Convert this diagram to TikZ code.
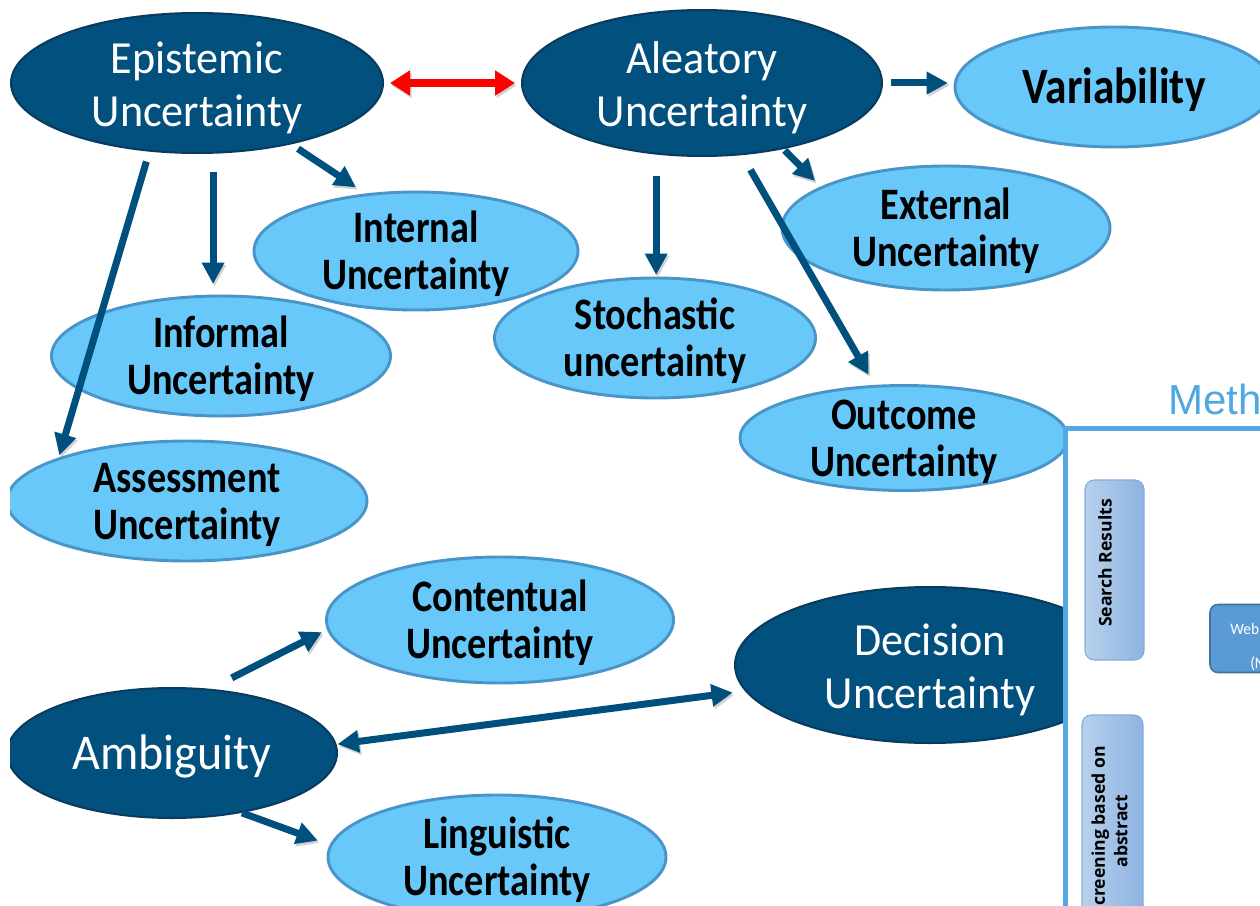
\documentclass[tikz,border=0pt]{standalone}
\usepackage{fontspec}
\setmainfont{Carlito}
\newfontfamily\wfont[FakeStretch=0.96]{Carlito}
\newfontfamily\bfont[FakeStretch=0.85]{Carlito}
\newfontfamily\sansfont{Liberation Sans}
\newfontfamily\osans{Open Sans}
\usetikzlibrary{arrows.meta,shapes.geometric}
\newcommand\TopS{\rule{0pt}{30pt}}
\newcommand\TopW{\rule{0pt}{32.25pt}}
\newcommand\BotS{\rule[-7.5pt]{0pt}{7.5pt}}
\definecolor{dkb}{HTML}{01507D}
\definecolor{dkbord}{HTML}{083B5E}
\definecolor{ltb}{HTML}{69C8FA}
\definecolor{ltbord}{HTML}{4A95C8}
\definecolor{arrc}{HTML}{00507E}
\definecolor{panelc}{HTML}{55A9E3}
\definecolor{methc}{HTML}{4EA8E2}
\definecolor{boxl}{HTML}{B8D0EC}
\definecolor{boxr}{HTML}{8DB3E2}
\definecolor{boxbord}{HTML}{86ACDA}
\definecolor{webc}{HTML}{5B9BD5}
\definecolor{webbord}{HTML}{41719C}
\tikzset{
  dk/.style 2 args={ellipse, fill=dkb, draw=dkbord, line width=1.5pt,
    minimum width={#1*0.75pt}, minimum height={#2*0.75pt},
    inner xsep=0pt, inner ysep=-34pt, outer sep=0pt, text=white, align=center,
    font=\wfont\fontsize{34.5pt}{39.75pt}\selectfont},
  lt/.style 2 args={ellipse, fill=ltb, draw=ltbord, line width=2.2pt,
    minimum width={#1*0.75pt}, minimum height={#2*0.75pt},
    inner xsep=0pt, inner ysep=-34pt, outer sep=0pt, text=black, align=center,
    font=\bfont\bfseries\fontsize{33.75pt}{35.25pt}\selectfont},
  shad/.style={preaction={draw=black, draw opacity=0.18, fill=black, fill opacity=0.18,
    transform canvas={xshift=1.2pt,yshift=-1.8pt}}},
  arr/.style={shad, draw=arrc, line width=5.25pt, -{Triangle[length=16pt,width=16pt]}},
  dblarr/.style={shad, draw=arrc, line width=5.25pt, {Triangle[length=16pt,width=16pt]}-{Triangle[length=16pt,width=16pt]}},
  redarr/.style={shad, draw=red, line width=6pt, {Triangle[length=15pt,width=18pt]}-{Triangle[length=15pt,width=18pt]}},
  lbox/.style={rounded corners=7pt, draw=boxbord, line width=0.8pt, left color=boxl, right color=boxr},
  smalltext/.style={font=\osans\bfseries\fontsize{13.2pt}{17pt}\selectfont, text=black, align=center}
}
\begin{document}
\begin{tikzpicture}[x=0.75pt,y=-0.75pt]
\useasboundingbox (0,0) rectangle (1260,906);
\clip (10,0) rectangle (1260,906);

% nodes
\node[dk={372}{140}] (epi) at (197,83) {\TopW Epistemic\\Uncertainty\BotS};
\node[dk={360}{146}] (ale) at (702,83) {\TopW Aleatory\\Uncertainty\BotS};
\node[lt={318}{120}, font=\bfont\bfseries\fontsize{38.25pt}{40pt}\selectfont] (var) at (1114,87) {\rule{0pt}{32pt}Variability\BotS};
\node[lt={339}{120}] (inf) at (221,356) {\TopS Informal\\Uncertainty\BotS};
\node[lt={324}{118}] (int) at (416,251) {\TopS Internal\\Uncertainty\BotS};
\node[lt={360}{120}] (asm) at (187,501) {\TopS Assessment\\Uncertainty\BotS};
\node[lt={321}{120}] (sto) at (655,338) {\TopS Stochastic\\uncertainty\BotS};
\node[lt={328}{124}] (ext) at (946,228) {\TopS External\\Uncertainty\BotS};
\node[lt={328}{105}] (out) at (904,438) {\TopS Outcome\\Uncertainty\BotS};
\node[lt={347}{126}] (con) at (500,620) {\TopS Contentual\\Uncertainty\BotS};
\node[dk={330}{130}, font=\wfont\fontsize{37.5pt}{40pt}\selectfont] (amb) at (172,753) {\rule{0pt}{31.5pt}Ambiguity\BotS};
\node[dk={390}{156}] (dec) at (930,665) {\TopW Decision\\Uncertainty\BotS};
\node[lt={338}{124}] (lin) at (497,857) {\TopS Linguistic\\Uncertainty\BotS};

% connectors
\draw[redarr, shorten <=5.25pt, shorten >=5.25pt] (epi.east) -- (ale.west);
\draw[arr, shorten <=6.75pt, shorten >=5.25pt] (ale.east) -- (ale.east -| var.west);
\draw[arr, shorten <=7pt, shorten >=10pt] (epi.-33) -- (int.131);
\draw[arr, shorten <=14.25pt, shorten >=9pt] (epi.-77) -- (epi.-77 |- inf.north);
\draw[arr, shorten <=8.5pt, shorten >=3pt] (epi.-125) -- (asm.162);
\draw[arr, shorten <=17pt, shorten >=2.25pt] (ale.-123) -- (ale.-123 |- sto.north);
\draw[arr, shorten <=2.25pt, shorten >=7pt] (ale.-39) -- (ext.162);
\draw[arr, shorten <=13.5pt, shorten >=10pt] (ale.-61) -- (out.119);
\draw[arr, shorten <=19.5pt, shorten >=5.25pt] (amb.60) -- (con.183);
\draw[dblarr, shorten <=1.5pt, shorten >=10pt] (amb.3) -- (dec.188);
\draw[arr, shorten <=1.5pt, shorten >=10.5pt] (amb.-41) -- (lin.176);

% partial panel on the right
\node[draw=panelc, line width=3.75pt, fill=white, outer sep=0pt, anchor=north west,
      minimum width=300pt, minimum height=450pt] (panel) at (1065,428) {};
\node[anchor=base west, inner sep=0pt, text=methc, font=\sansfont\fontsize{31.5pt}{36pt}\selectfont] (meth) at (1168,414) {Meth};
\node[lbox, minimum width=44.25pt, minimum height=135pt] (sr) at (1114.5,570) {};
\node[smalltext, rotate=90] (srt) at (1105,563) {Search Results};
\node[lbox, minimum width=45.75pt, minimum height=174pt] (scr) at (1112.5,831) {};
\node[smalltext, rotate=90] (scrt) at (1109.5,831) {Screening based on\\abstract};
\node[rounded corners=6pt, fill=webc, draw=webbord, line width=1.2pt, minimum width=97.5pt, minimum height=51pt] (web) at (1275,638.5) {};
\node[anchor=base west, inner sep=0pt, text=white, font=\wfont\fontsize{12pt}{14pt}\selectfont] (web1) at (1230,634) {Web};
\node[anchor=base west, inner sep=0pt, text=white, font=\wfont\fontsize{12pt}{14pt}\selectfont] (web2) at (1250,668) {(N};
\end{tikzpicture}
\end{document}
